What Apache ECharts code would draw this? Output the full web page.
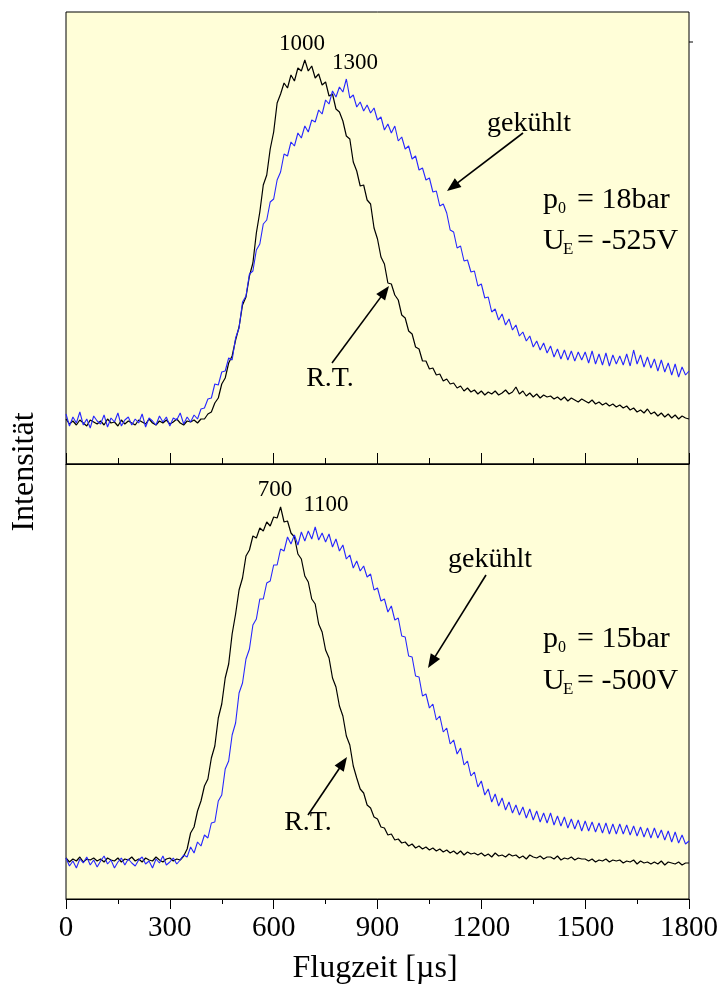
<!DOCTYPE html>
<html>
<head>
<meta charset="utf-8">
<script src="https://cdn.jsdelivr.net/npm/echarts@6/dist/echarts.min.js"></script>
<style>
  html, body { margin: 0; padding: 0; background: #fff; }
  #chart { width: 720px; height: 985px; }
</style>
</head>
<body>
<div id="chart"></div>
<script>
// Flight time sampling grid in microseconds
const flugzeit = [
  0, 10, 20, 30, 40, 50, 60, 70, 80, 90,
  100, 110, 120, 130, 140, 150, 160, 170, 180, 190,
  200, 210, 220, 230, 240, 250, 260, 270, 280, 290,
  300, 310, 320, 330, 340, 350, 360, 370, 380, 390,
  400, 410, 420, 430, 440, 450, 460, 470, 480, 490,
  500, 510, 520, 530, 540, 550, 560, 570, 580, 590,
  600, 610, 620, 630, 640, 650, 660, 670, 680, 690,
  700, 710, 720, 730, 740, 750, 760, 770, 780, 790,
  800, 810, 820, 830, 840, 850, 860, 870, 880, 890,
  900, 910, 920, 930, 940, 950, 960, 970, 980, 990,
  1000, 1010, 1020, 1030, 1040, 1050, 1060, 1070, 1080, 1090,
  1100, 1110, 1120, 1130, 1140, 1150, 1160, 1170, 1180, 1190,
  1200, 1210, 1220, 1230, 1240, 1250, 1260, 1270, 1280, 1290,
  1300, 1310, 1320, 1330, 1340, 1350, 1360, 1370, 1380, 1390,
  1400, 1410, 1420, 1430, 1440, 1450, 1460, 1470, 1480, 1490,
  1500, 1510, 1520, 1530, 1540, 1550, 1560, 1570, 1580, 1590,
  1600, 1610, 1620, 1630, 1640, 1650, 1660, 1670, 1680, 1690,
  1700, 1710, 1720, 1730, 1740, 1750, 1760, 1770, 1780, 1790,
  1800
];

// p0 = 18 bar, UE = -525 V : room temperature source
const obenRT = [
  45, 40, 43, 39, 44, 41, 38, 44, 42, 40,
  43, 39, 45, 41, 42, 38, 44, 40, 43, 41,
  39, 44, 42, 40, 45, 41, 39, 43, 41, 44,
  40, 42, 45, 41, 39, 43, 42, 44, 41, 45,
  45, 50, 52, 61, 66, 80, 86, 101, 108, 124,
  137, 159, 167, 188, 201, 231, 252, 279, 289, 315,
  332, 361, 370, 381, 376, 389, 383, 396, 393, 404,
  393, 398, 386, 390, 379, 382, 368, 370, 355, 352,
  343, 328, 325, 302, 293, 278, 279, 264, 260, 236,
  225, 207, 200, 181, 180, 169, 164, 149, 146, 133,
  130, 117, 115, 103, 103, 95, 96, 89, 90, 83,
  85, 80, 81, 76, 78, 73, 76, 72, 74, 70,
  73, 69, 72, 70, 73, 69, 71, 74, 70, 72,
  77, 70, 73, 68, 71, 67, 70, 66, 69, 67,
  68, 65, 67, 64, 67, 63, 66, 64, 62, 65,
  63, 61, 64, 60, 62, 59, 61, 58, 60, 57,
  59, 56, 58, 54, 56, 52, 54, 51, 55, 50,
  52, 48, 51, 47, 50, 46, 49, 45, 48, 46,
  45
];

// p0 = 18 bar, UE = -525 V : cooled source
const obenGekuehlt = [
  50, 38, 47, 41, 52, 39, 45, 36, 48, 43,
  40, 49, 37, 46, 42, 51, 38, 44, 47, 39,
  45, 41, 50, 37, 46, 43, 39, 48, 42, 47,
  38, 46, 44, 51, 40, 47, 42, 49, 45, 55,
  56, 65, 66, 80, 79, 92, 93, 106, 104, 126,
  136, 162, 168, 190, 193, 214, 220, 240, 244, 262,
  265, 284, 292, 310, 308, 322, 318, 331, 326, 338,
  332, 344, 342, 354, 350, 364, 360, 373, 367, 377,
  372, 385, 366, 369, 357, 362, 353, 359, 351, 356,
  344, 347, 334, 340, 331, 338, 323, 327, 315, 318,
  305, 308, 294, 296, 284, 286, 272, 273, 258, 260,
  251, 234, 232, 216, 218, 203, 204, 192, 193, 178,
  180, 166, 167, 152, 155, 144, 150, 139, 145, 134,
  139, 128, 132, 123, 128, 117, 123, 114, 121, 111,
  118, 107, 115, 105, 114, 104, 113, 103, 112, 104,
  112, 101, 113, 100, 110, 99, 111, 98, 109, 100,
  108, 99, 110, 98, 114, 100, 109, 97, 107, 96,
  105, 93, 104, 92, 101, 89, 100, 87, 97, 89,
  93
];

// p0 = 15 bar, UE = -500 V : room temperature source
const untenRT = [
  41, 37, 40, 38, 42, 37, 40, 39, 41, 38,
  40, 37, 41, 39, 38, 41, 37, 40, 39, 42,
  38, 40, 37, 41, 39, 38, 42, 39, 37, 40,
  41, 38, 40, 39, 43, 50, 66, 72, 88, 98,
  113, 120, 141, 153, 181, 195, 221, 235, 265, 285,
  309, 321, 343, 349, 363, 361, 371, 368, 377, 373,
  382, 381, 392, 377, 378, 366, 362, 345, 340, 323,
  317, 300, 295, 275, 267, 249, 241, 221, 212, 193,
  183, 163, 154, 133, 121, 110, 106, 94, 91, 82,
  80, 72, 71, 64, 65, 59, 60, 56, 57, 53,
  55, 51, 53, 50, 52, 49, 51, 48, 50, 47,
  49, 46, 48, 45, 48, 44, 47, 45, 46, 44,
  46, 43, 45, 42, 46, 43, 44, 42, 45, 43,
  44, 41, 43, 40, 44, 42, 41, 43, 40, 42,
  42, 40, 43, 39, 41, 40, 42, 39, 41, 40,
  40, 38, 40, 37, 39, 38, 40, 37, 39, 38,
  39, 36, 38, 37, 39, 35, 38, 36, 37, 35,
  37, 35, 38, 34, 37, 36, 35, 37, 34, 36,
  36
];

// p0 = 15 bar, UE = -500 V : cooled source
const untenGekuehlt = [
  41, 33, 38, 31, 40, 36, 42, 34, 39, 32,
  38, 43, 35, 39, 31, 37, 41, 34, 40, 36,
  33, 39, 42, 35, 38, 31, 40, 36, 43, 34,
  37, 41, 35, 39, 44, 42, 52, 46, 57, 53,
  64, 61, 76, 77, 98, 104, 130, 138, 164, 176,
  206, 216, 240, 250, 274, 280, 300, 300, 316, 318,
  334, 334, 350, 348, 362, 355, 364, 354, 367, 358,
  368, 360, 372, 359, 366, 357, 365, 352, 360, 348,
  354, 340, 344, 331, 338, 328, 333, 322, 325, 309,
  311, 298, 300, 287, 293, 279, 281, 263, 262, 243,
  242, 223, 222, 203, 205, 191, 195, 179, 183, 167,
  171, 155, 159, 145, 151, 134, 138, 123, 127, 112,
  118, 104, 110, 97, 105, 93, 101, 89, 97, 86,
  94, 84, 92, 81, 90, 79, 88, 77, 86, 76,
  86, 74, 83, 73, 82, 71, 80, 70, 79, 68,
  78, 68, 77, 67, 76, 66, 76, 65, 75, 65,
  75, 65, 74, 64, 73, 63, 72, 62, 71, 61,
  71, 61, 69, 59, 68, 57, 67, 56, 64, 55,
  58
];

const SERIF = '"Liberation Serif", "Times New Roman", serif';
const BLUE = '#2626ff';
const PAPER = '#fffed8';

const pairs = (vals) => flugzeit.map((t, i) => [t, vals[i]]);

// text placed by its baseline
function txt(text, x, baseline, size, align) {
  return {
    type: 'text', x: x, y: baseline - size * 0.3, z: 10,
    style: { text: text, fill: '#000', font: size + 'px ' + SERIF,
             align: align || 'left', verticalAlign: 'middle' }
  };
}

// straight arrow with a filled head at (x2, y2)
function arrow(x1, y1, x2, y2) {
  const dx = x2 - x1, dy = y2 - y1, len = Math.hypot(dx, dy);
  const ux = dx / len, uy = dy / len, nx = -uy, ny = ux;
  const hl = 14, hw = 5.5;
  const bx = x2 - ux * hl, by = y2 - uy * hl;
  return [
    { type: 'line', z: 10, shape: { x1: x1, y1: y1, x2: bx + ux * 2, y2: by + uy * 2 },
      style: { stroke: '#000', lineWidth: 1.6 } },
    { type: 'polygon', z: 10,
      shape: { points: [[x2, y2], [bx + nx * hw, by + ny * hw], [bx - nx * hw, by - ny * hw]] },
      style: { fill: '#000' } }
  ];
}

// one "p0 = … bar / UE = … V" block
function conditions(left, base1, base2, pText, uText) {
  return [
    txt('p', left, base1, 30),
    txt('0', left + 15, base1 + 5, 16),
    txt('= ' + pText, left + 34, base1, 30),
    txt('U', left, base2, 30),
    txt('E', left + 20, base2 + 5, 17),
    txt('= ' + uText, left + 34, base2, 30)
  ];
}

const chart = echarts.init(document.getElementById('chart'), null, { renderer: 'canvas' });

const baseX = {
  type: 'value', min: 0, max: 1800, interval: 300,
  axisLine: { show: true, lineStyle: { color: '#000', width: 1 } },
  splitLine: { show: false },
  minorSplitLine: { show: false }
};

chart.setOption({
  animation: false,
  backgroundColor: '#fff',
  grid: [
    { left: 66, right: 31, top: 12, height: 452, show: true, containLabel: false,
      outerBoundsMode: 'none',
      backgroundColor: PAPER, borderColor: '#000', borderWidth: 1 },
    { left: 66, right: 31, top: 464, height: 435, show: true, containLabel: false,
      outerBoundsMode: 'none',
      backgroundColor: PAPER, borderColor: '#000', borderWidth: 1 }
  ],
  xAxis: [
    Object.assign({}, baseX, {
      gridIndex: 0,
      axisLabel: { show: false },
      axisTick: { show: true, inside: true, length: 11, lineStyle: { color: '#000' } },
      minorTick: { show: true, splitNumber: 2, length: 6, lineStyle: { color: '#000' } }
    }),
    Object.assign({}, baseX, {
      gridIndex: 1,
      axisLabel: {
        show: true, margin: 15, color: '#000', fontSize: 29, fontFamily: SERIF,
        hideOverlap: false, formatter: (v) => String(v)
      },
      axisTick: { show: true, inside: false, length: 10, lineStyle: { color: '#000' } },
      minorTick: { show: true, splitNumber: 2, length: 5, lineStyle: { color: '#000' } }
    })
  ],
  yAxis: [
    { type: 'value', gridIndex: 0, min: 0, max: 452, show: false },
    { type: 'value', gridIndex: 1, min: 0, max: 435, show: false }
  ],
  series: [
    { name: 'R.T. 18 bar', type: 'line', xAxisIndex: 0, yAxisIndex: 0,
      data: pairs(obenRT), symbol: 'none', lineStyle: { color: '#000', width: 1.2 } },
    { name: 'gekühlt 18 bar', type: 'line', xAxisIndex: 0, yAxisIndex: 0,
      data: pairs(obenGekuehlt), symbol: 'none', lineStyle: { color: BLUE, width: 1.1 } },
    { name: 'R.T. 15 bar', type: 'line', xAxisIndex: 1, yAxisIndex: 1,
      data: pairs(untenRT), symbol: 'none', lineStyle: { color: '#000', width: 1.2 } },
    { name: 'gekühlt 15 bar', type: 'line', xAxisIndex: 1, yAxisIndex: 1,
      data: pairs(untenGekuehlt), symbol: 'none', lineStyle: { color: BLUE, width: 1.1 } }
  ],
  graphic: [].concat(
    // axis titles
    [
      txt('Flugzeit [µs]', 375, 978, 32, 'center'),
      { type: 'text', x: 25, y: 472, rotation: Math.PI / 2, z: 10,
        style: { text: 'Intensität', fill: '#000', font: '32px ' + SERIF,
                 align: 'center', verticalAlign: 'middle' } },
      { type: 'line', z: 10, shape: { x1: 689, y1: 42, x2: 693, y2: 42 },
        style: { stroke: '#000', lineWidth: 1 } }
    ],
    // upper panel annotations
    [
      txt('1000', 302, 51, 23, 'center'),
      txt('1300', 355, 70, 23, 'center'),
      txt('gekühlt', 529, 132, 28, 'center'),
      txt('R.T.', 330, 387, 28, 'center')
    ],
    arrow(523, 133, 447, 191),
    arrow(332, 363, 389, 286),
    conditions(543, 209, 250, '18bar', '-525V'),
    // lower panel annotations
    [
      txt('700', 275, 497, 23, 'center'),
      txt('1100', 326, 512, 23, 'center'),
      txt('gekühlt', 490, 568, 28, 'center'),
      txt('R.T.', 308, 831, 28, 'center')
    ],
    arrow(486, 575, 428, 668),
    arrow(308, 815, 347, 757),
    conditions(543, 648, 690, '15bar', '-500V')
  )
});
</script>
</body>
</html>
